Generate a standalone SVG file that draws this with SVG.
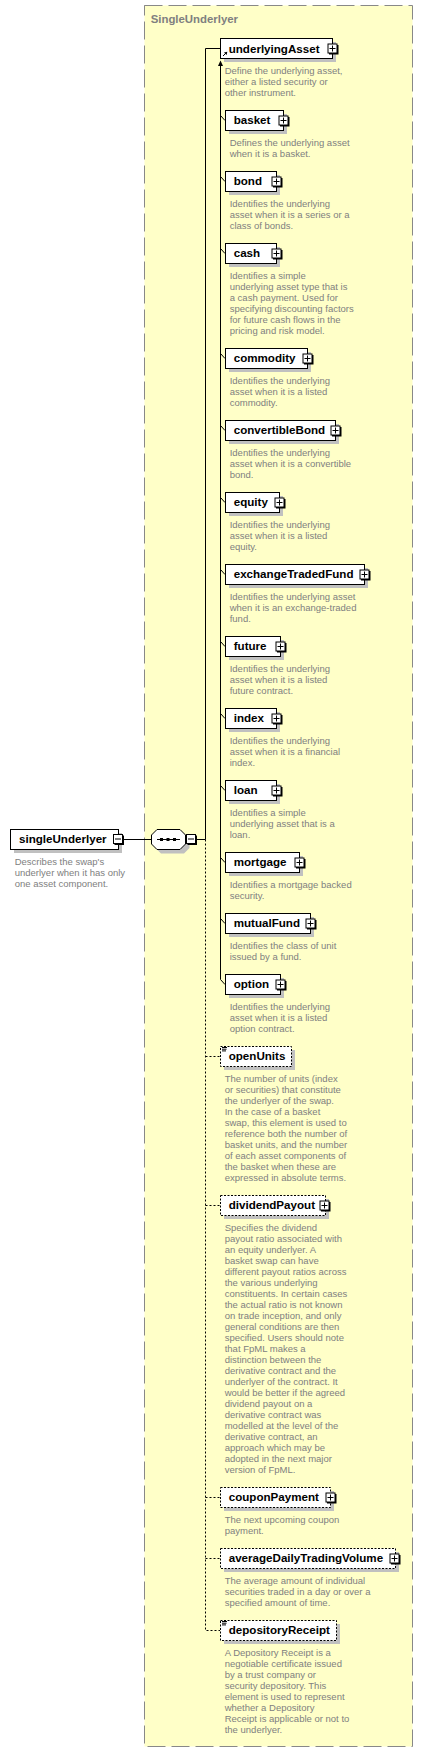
<svg xmlns="http://www.w3.org/2000/svg" width="423" height="1752" viewBox="0 0 423 1752">
<style>
.grp{fill:#FFFFC8;stroke:#888;stroke-width:1;stroke-dasharray:18 6}
.title{font-family:"Liberation Sans",Arial,sans-serif;font-weight:bold;font-size:11.4px;fill:#808080}
.sh{fill:#C0C0C0}
.box{fill:#fff;stroke:#000;stroke-width:1}
.opt{fill:#fff;stroke:#000;stroke-width:1;stroke-dasharray:2 1.5}
.nm{font-family:"Liberation Sans",Arial,sans-serif;font-weight:bold;font-size:11.6px;fill:#000}
.ds{font-family:"Liberation Sans",Arial,sans-serif;font-size:9.5px;fill:#808080}
.pb{fill:#fff;stroke:#000;stroke-width:1}
.pk{fill:#000}
.ln{fill:none;stroke:#000;stroke-width:1}
.dl{fill:none;stroke:#000;stroke-width:1;stroke-dasharray:2 2}
</style>
<defs>
<g id="plus"><rect class="pk" x="1.5" y="1.5" width="9.5" height="9.5"/><rect class="pb" x="0.5" y="0.5" width="9" height="9"/><path class="ln" d="M2 5H8M5 2V8"/></g>
<g id="minus"><rect class="pk" x="1.5" y="1.5" width="9.5" height="9.5"/><rect class="pb" x="0.5" y="0.5" width="9" height="9"/><path class="ln" d="M2 5H8"/></g>
<g id="simple"><path class="ln" d="M2 2.5H7M2 4.2H6.5M2 5.9H6"/></g>
</defs>

<rect class="grp" x="144.5" y="5.5" width="268" height="1741"/>
<text class="title" x="150.7" y="22.5">SingleUnderlyer</text>

<g id="connectors">
<path class="ln" d="M124 839.5H152M196 839.5H205.5M205.5 48.5V839.5M205.5 48.5H220"/>
<path class="dl" d="M205.5 839.5V1630.5H220M205.5 1056.5H220M205.5 1205.5H220M205.5 1497.5H220M205.5 1558.5H220"/>
<path class="ln" d="M220.5 64V979.5L225 984.5"/>
<path class="pk" d="M220.5 60.5L218 66H223Z"/>
<path class="ln" d="M220.5 115.5L225 120.5M220.5 176.5L225 181.5M220.5 248.5L225 253.5M220.5 353.5L225 358.5M220.5 425.5L225 430.5M220.5 497.5L225 502.5M220.5 569.5L225 574.5M220.5 641.5L225 646.5M220.5 713.5L225 718.5M220.5 785.5L225 790.5M220.5 857.5L225 862.5M220.5 918.5L225 923.5"/>
</g>

<g id="singleUnderlyer">
<rect class="sh" x="14" y="833" width="108" height="20"/>
<rect class="box" x="10.5" y="829.5" width="108" height="20"/>
<text class="nm" x="19" y="843">singleUnderlyer</text>
<use href="#minus" x="113" y="834"/>
<text class="ds" x="14.7" y="864.5">Describes the swap's<tspan x="14.7" dy="11">underlyer when it has only</tspan><tspan x="14.7" dy="11">one asset component.</tspan></text>
</g>

<g id="sequence">
<polygon class="sh" points="161,833.5 184,833.5 189.5,839 189.5,848 184,853.5 161,853.5 155.5,848 155.5,839"/>
<polygon class="box" points="157,829.5 180,829.5 185.5,835 185.5,844 180,849.5 157,849.5 151.5,844 151.5,835"/>
<path class="ln" d="M157 839.5H180"/>
<rect class="pk" x="160" y="838" width="3" height="3"/>
<rect class="pk" x="166.5" y="838" width="3" height="3"/>
<rect class="pk" x="173" y="838" width="3" height="3"/>
<use href="#minus" x="186" y="834"/>
</g>

<g id="underlyingAsset">
<rect class="sh" x="224" y="42" width="112" height="20"/>
<rect class="box" x="220.5" y="38.5" width="112" height="20"/>
<text class="nm" x="228.7" y="52.5">underlyingAsset</text>
<path class="ln" d="M223 56L226.5 52.5"/><path class="pk" d="M227.3 51.7L224 52.4L226.6 55Z"/>
<use href="#plus" x="327.5" y="43.5"/>
<text class="ds" x="224.7" y="74">Define the underlying asset,<tspan x="224.7" dy="11">either a listed security or</tspan><tspan x="224.7" dy="11">other instrument.</tspan></text>
</g>

<g id="basket">
<rect class="sh" x="229" y="114" width="58" height="20"/>
<rect class="box" x="225.5" y="110.5" width="58" height="20"/>
<text class="nm" x="233.7" y="124">basket</text>
<use href="#plus" x="278.5" y="115.5"/>
<text class="ds" x="229.7" y="146">Defines the underlying asset<tspan x="229.7" dy="11">when it is a basket.</tspan></text>
</g>

<g id="bond">
<rect class="sh" x="229" y="175" width="51" height="20"/>
<rect class="box" x="225.5" y="171.5" width="51" height="20"/>
<text class="nm" x="233.7" y="185">bond</text>
<use href="#plus" x="271.5" y="176.5"/>
<text class="ds" x="229.7" y="207">Identifies the underlying<tspan x="229.7" dy="11">asset when it is a series or a</tspan><tspan x="229.7" dy="11">class of bonds.</tspan></text>
</g>

<g id="cash">
<rect class="sh" x="229" y="247" width="51" height="20"/>
<rect class="box" x="225.5" y="243.5" width="51" height="20"/>
<text class="nm" x="233.7" y="257">cash</text>
<use href="#plus" x="271.5" y="248.5"/>
<text class="ds" x="229.7" y="279">Identifies a simple<tspan x="229.7" dy="11">underlying asset type that is</tspan><tspan x="229.7" dy="11">a cash payment. Used for</tspan><tspan x="229.7" dy="11">specifying discounting factors</tspan><tspan x="229.7" dy="11">for future cash flows in the</tspan><tspan x="229.7" dy="11">pricing and risk model.</tspan></text>
</g>

<g id="commodity">
<rect class="sh" x="229" y="352" width="82" height="20"/>
<rect class="box" x="225.5" y="348.5" width="82" height="20"/>
<text class="nm" x="233.7" y="362">commodity</text>
<use href="#plus" x="302.5" y="353.5"/>
<text class="ds" x="229.7" y="384">Identifies the underlying<tspan x="229.7" dy="11">asset when it is a listed</tspan><tspan x="229.7" dy="11">commodity.</tspan></text>
</g>

<g id="convertibleBond">
<rect class="sh" x="229" y="424" width="110" height="20"/>
<rect class="box" x="225.5" y="420.5" width="110" height="20"/>
<text class="nm" x="233.7" y="434">convertibleBond</text>
<use href="#plus" x="330.5" y="425.5"/>
<text class="ds" x="229.7" y="456">Identifies the underlying<tspan x="229.7" dy="11">asset when it is a convertible</tspan><tspan x="229.7" dy="11">bond.</tspan></text>
</g>

<g id="equity">
<rect class="sh" x="229" y="496" width="54" height="20"/>
<rect class="box" x="225.5" y="492.5" width="54" height="20"/>
<text class="nm" x="233.7" y="506">equity</text>
<use href="#plus" x="274.5" y="497.5"/>
<text class="ds" x="229.7" y="528">Identifies the underlying<tspan x="229.7" dy="11">asset when it is a listed</tspan><tspan x="229.7" dy="11">equity.</tspan></text>
</g>

<g id="exchangeTradedFund">
<rect class="sh" x="229" y="568" width="139" height="20"/>
<rect class="box" x="225.5" y="564.5" width="139" height="20"/>
<text class="nm" x="233.7" y="578">exchangeTradedFund</text>
<use href="#plus" x="359.5" y="569.5"/>
<text class="ds" x="229.7" y="600">Identifies the underlying asset<tspan x="229.7" dy="11">when it is an exchange-traded</tspan><tspan x="229.7" dy="11">fund.</tspan></text>
</g>

<g id="future">
<rect class="sh" x="229" y="640" width="55" height="20"/>
<rect class="box" x="225.5" y="636.5" width="55" height="20"/>
<text class="nm" x="233.7" y="650">future</text>
<use href="#plus" x="275.5" y="641.5"/>
<text class="ds" x="229.7" y="672">Identifies the underlying<tspan x="229.7" dy="11">asset when it is a listed</tspan><tspan x="229.7" dy="11">future contract.</tspan></text>
</g>

<g id="index">
<rect class="sh" x="229" y="712" width="51" height="20"/>
<rect class="box" x="225.5" y="708.5" width="51" height="20"/>
<text class="nm" x="233.7" y="722">index</text>
<use href="#plus" x="271.5" y="713.5"/>
<text class="ds" x="229.7" y="744">Identifies the underlying<tspan x="229.7" dy="11">asset when it is a financial</tspan><tspan x="229.7" dy="11">index.</tspan></text>
</g>

<g id="loan">
<rect class="sh" x="229" y="784" width="51" height="20"/>
<rect class="box" x="225.5" y="780.5" width="51" height="20"/>
<text class="nm" x="233.7" y="794">loan</text>
<use href="#plus" x="271.5" y="785.5"/>
<text class="ds" x="229.7" y="816">Identifies a simple<tspan x="229.7" dy="11">underlying asset that is a</tspan><tspan x="229.7" dy="11">loan.</tspan></text>
</g>

<g id="mortgage">
<rect class="sh" x="229" y="856" width="74" height="20"/>
<rect class="box" x="225.5" y="852.5" width="74" height="20"/>
<text class="nm" x="233.7" y="866">mortgage</text>
<use href="#plus" x="294.5" y="857.5"/>
<text class="ds" x="229.7" y="888">Identifies a mortgage backed<tspan x="229.7" dy="11">security.</tspan></text>
</g>

<g id="mutualFund">
<rect class="sh" x="229" y="917" width="85" height="20"/>
<rect class="box" x="225.5" y="913.5" width="85" height="20"/>
<text class="nm" x="233.7" y="927">mutualFund</text>
<use href="#plus" x="305.5" y="918.5"/>
<text class="ds" x="229.7" y="949">Identifies the class of unit<tspan x="229.7" dy="11">issued by a fund.</tspan></text>
</g>

<g id="option">
<rect class="sh" x="229" y="978" width="55" height="20"/>
<rect class="box" x="225.5" y="974.5" width="55" height="20"/>
<text class="nm" x="233.7" y="988">option</text>
<use href="#plus" x="275.5" y="979.5"/>
<text class="ds" x="229.7" y="1010">Identifies the underlying<tspan x="229.7" dy="11">asset when it is a listed</tspan><tspan x="229.7" dy="11">option contract.</tspan></text>
</g>

<g id="openUnits">
<rect class="sh" x="224" y="1050" width="71" height="20"/>
<rect class="opt" x="220.5" y="1046.5" width="71" height="20"/>
<use href="#simple" x="220" y="1045"/>
<text class="nm" x="228.7" y="1060">openUnits</text>
<text class="ds" x="224.7" y="1082">The number of units (index<tspan x="224.7" dy="11">or securities) that constitute</tspan><tspan x="224.7" dy="11">the underlyer of the swap.</tspan><tspan x="224.7" dy="11">In the case of a basket</tspan><tspan x="224.7" dy="11">swap, this element is used to</tspan><tspan x="224.7" dy="11">reference both the number of</tspan><tspan x="224.7" dy="11">basket units, and the number</tspan><tspan x="224.7" dy="11">of each asset components of</tspan><tspan x="224.7" dy="11">the basket when these are</tspan><tspan x="224.7" dy="11">expressed in absolute terms.</tspan></text>
</g>

<g id="dividendPayout">
<rect class="sh" x="224" y="1199" width="105" height="20"/>
<rect class="opt" x="220.5" y="1195.5" width="105" height="20"/>
<text class="nm" x="228.7" y="1209">dividendPayout</text>
<use href="#plus" x="319.5" y="1200.5"/>
<text class="ds" x="224.7" y="1231">Specifies the dividend<tspan x="224.7" dy="11">payout ratio associated with</tspan><tspan x="224.7" dy="11">an equity underlyer. A</tspan><tspan x="224.7" dy="11">basket swap can have</tspan><tspan x="224.7" dy="11">different payout ratios across</tspan><tspan x="224.7" dy="11">the various underlying</tspan><tspan x="224.7" dy="11">constituents. In certain cases</tspan><tspan x="224.7" dy="11">the actual ratio is not known</tspan><tspan x="224.7" dy="11">on trade inception, and only</tspan><tspan x="224.7" dy="11">general conditions are then</tspan><tspan x="224.7" dy="11">specified. Users should note</tspan><tspan x="224.7" dy="11">that FpML makes a</tspan><tspan x="224.7" dy="11">distinction between the</tspan><tspan x="224.7" dy="11">derivative contract and the</tspan><tspan x="224.7" dy="11">underlyer of the contract. It</tspan><tspan x="224.7" dy="11">would be better if the agreed</tspan><tspan x="224.7" dy="11">dividend payout on a</tspan><tspan x="224.7" dy="11">derivative contract was</tspan><tspan x="224.7" dy="11">modelled at the level of the</tspan><tspan x="224.7" dy="11">derivative contract, an</tspan><tspan x="224.7" dy="11">approach which may be</tspan><tspan x="224.7" dy="11">adopted in the next major</tspan><tspan x="224.7" dy="11">version of FpML.</tspan></text>
</g>

<g id="couponPayment">
<rect class="sh" x="224" y="1491" width="110" height="20"/>
<rect class="opt" x="220.5" y="1487.5" width="110" height="20"/>
<text class="nm" x="228.7" y="1501">couponPayment</text>
<use href="#plus" x="325.5" y="1492.5"/>
<text class="ds" x="224.7" y="1523">The next upcoming coupon<tspan x="224.7" dy="11">payment.</tspan></text>
</g>

<g id="averageDailyTradingVolume">
<rect class="sh" x="224" y="1552" width="175" height="20"/>
<rect class="opt" x="220.5" y="1548.5" width="175" height="20"/>
<text class="nm" x="228.7" y="1562">averageDailyTradingVolume</text>
<use href="#plus" x="389.5" y="1553.5"/>
<text class="ds" x="224.7" y="1584">The average amount of individual<tspan x="224.7" dy="11">securities traded in a day or over a</tspan><tspan x="224.7" dy="11">specified amount of time.</tspan></text>
</g>

<g id="depositoryReceipt">
<rect class="sh" x="224" y="1624" width="116" height="20"/>
<rect class="opt" x="220.5" y="1620.5" width="116" height="20"/>
<use href="#simple" x="220" y="1619"/>
<text class="nm" x="228.7" y="1634">depositoryReceipt</text>
<text class="ds" x="224.7" y="1656">A Depository Receipt is a<tspan x="224.7" dy="11">negotiable certificate issued</tspan><tspan x="224.7" dy="11">by a trust company or</tspan><tspan x="224.7" dy="11">security depository. This</tspan><tspan x="224.7" dy="11">element is used to represent</tspan><tspan x="224.7" dy="11">whether a Depository</tspan><tspan x="224.7" dy="11">Receipt is applicable or not to</tspan><tspan x="224.7" dy="11">the underlyer.</tspan></text>
</g>
</svg>
